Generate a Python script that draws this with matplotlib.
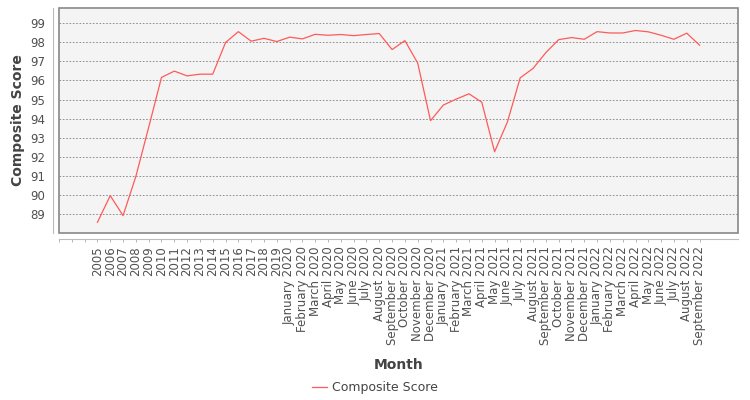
import numpy as np
import matplotlib
matplotlib.use("Agg")
import matplotlib.pyplot as plt
from matplotlib.patches import Rectangle

years = [str(y) for y in range(2005, 2020)]
month_names = ["January", "February", "March", "April", "May", "June", "July",
               "August", "September", "October", "November", "December"]
months = ([f"{m} 2020" for m in month_names] + [f"{m} 2021" for m in month_names]
          + [f"{m} 2022" for m in month_names[:9]])
labels = years + months

scores = [88.56, 89.96, 88.91, 90.97, 93.54, 96.16, 96.49, 96.24, 96.33, 96.33,
          97.99, 98.56, 98.06, 98.21, 98.04,
          98.27, 98.18, 98.42, 98.37, 98.41, 98.35, 98.41, 98.46, 97.62, 98.09, 96.91, 93.89,
          94.71, 95.02, 95.30, 94.86, 92.26, 93.82, 96.14, 96.63, 97.46, 98.14, 98.25, 98.16,
          98.56, 98.49, 98.49, 98.62, 98.55, 98.37, 98.16, 98.48, 97.85]

text_col = "#444444"
fig = plt.figure(figsize=(7.5, 4), dpi=100)
ax = fig.add_axes([59 / 750, 1 - 233 / 400, (738 - 59) / 750, (233 - 8) / 400])
ax.set_facecolor("#f4f4f4")

x = np.arange(len(labels))
line, = ax.plot(x, scores, color="#ff5a5a", lw=0.9, label="Composite Score")

ax.set_xlim(-3, 50)
ax.set_ylim(88.0, 99.8)
ax.set_yticks(range(89, 100))
ax.set_xticks([-3, -2, -1], minor=True)
ax.set_xticks(x, labels)
ax.tick_params(axis="x", which="both", length=2.5, width=0.6, color="#aaaaaa", pad=3,
               labelsize=8.5, labelcolor="#505050", labelrotation=90)
ax.tick_params(axis="y", length=0, pad=6, labelsize=8.5, labelcolor="#505050")

ax.grid(axis="y", color="#808080", linestyle=(0, (2, 2)), linewidth=0.6)
ax.set_axisbelow(True)

for side in ["top", "right"]:
    ax.spines[side].set_visible(False)
for side in ["left", "bottom"]:
    ax.spines[side].set_position(("outward", 4))
    ax.spines[side].set_color("#bbbbbb")
    ax.spines[side].set_linewidth(0.8)
ax.add_patch(Rectangle((0, 0), 1, 1, transform=ax.transAxes, fill=False,
                       edgecolor="#888888", lw=1.2, clip_on=False, zorder=5))

ax.set_ylabel("Composite Score", fontsize=10, fontweight="bold", color=text_col, labelpad=4)
ax.set_xlabel("Month", fontsize=10, fontweight="bold", color=text_col, labelpad=9)

fig.legend(handles=[line], loc="center", bbox_to_anchor=(0.5, 1 - 388 / 400),
           frameon=False, fontsize=9, handlelength=1.2, handletextpad=0.4,
           labelcolor=text_col)

fig.savefig("out.png", dpi=100)
